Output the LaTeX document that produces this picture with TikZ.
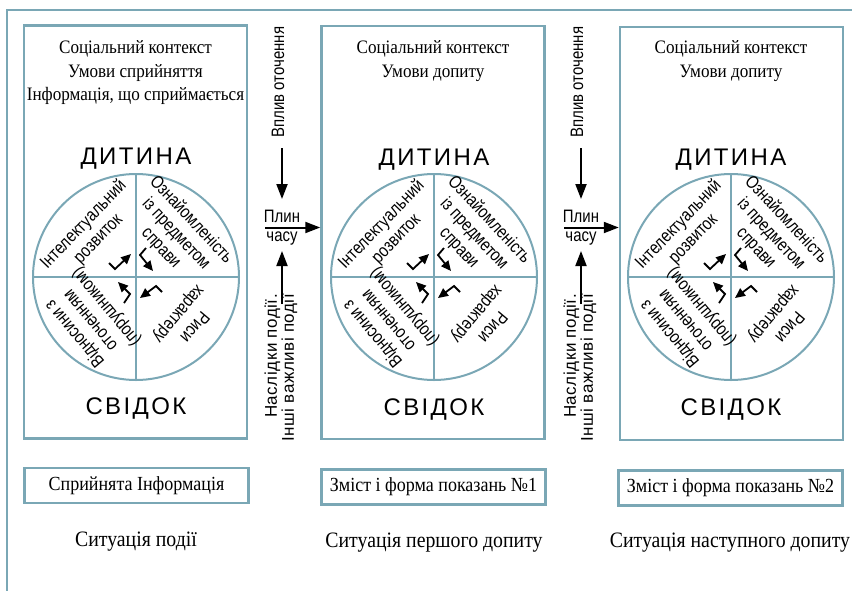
\documentclass[tikz,border=0pt]{standalone}
\usepackage{fontspec}
\setmainfont{Liberation Serif}
\newfontfamily\condserif[FakeStretch=0.9]{Liberation Serif}
\newfontfamily\condsans[FakeStretch=0.83]{Liberation Sans}
\newfontfamily\widesans[LetterSpace=3]{Liberation Sans}
\newfontfamily\titlefont[LetterSpace=10]{Liberation Sans}
\usetikzlibrary{arrows.meta}
\definecolor{framec}{RGB}{122,167,181}
\tikzset{
  bigbox/.style={draw=framec, line width=2.5pt, minimum width=223pt, minimum height=413pt, inner sep=0pt},
  infobox/.style={draw=framec, line width=2.5pt, minimum width=224pt, minimum height=35pt, inner sep=0pt, font=\condserif\fontsize{20}{22}\selectfont},
  toptext/.style={anchor=base, inner sep=0pt, font=\condserif\fontsize{19}{22}\selectfont},
  sitlabel/.style={anchor=base, inner sep=0pt, font=\condserif\fontsize{22}{24}\selectfont},
  bigword/.style={anchor=base, inner sep=0pt, font=\titlefont\fontsize{24}{26}\selectfont},
  quadtext/.style={align=center, inner sep=0pt, font=\condsans\fontsize{18}{20.5}\selectfont},
  sidetext/.style={inner sep=0pt, font=\condsans\fontsize{18}{16}\selectfont},
  bottomside/.style={inner sep=0pt, font=\widesans\fontsize{17}{17}\selectfont},
  flowarrow/.style={line width=2pt, -{Triangle[length=15pt,width=11pt]}},
  smallarrow/.style={line width=1.8pt, -{Triangle[length=10pt,width=9pt]}},
  wheel/.pic={
    \node[circle, draw=framec, line width=2pt, minimum size=206pt, inner sep=0pt] (c) at (0,0) {};
    \draw[framec, line width=2pt] (c.north) -- (c.south);
    \draw[framec, line width=2pt] (c.west) -- (c.east);
    \node[quadtext, rotate=46] (ul) at (-45,-45) {Інтелектуальний\\розвиток};
    \node[quadtext, rotate=-47] (ur) at (40,-43) {Ознайомленість\\із предметом\\справи};
    \node[quadtext, rotate=-130] (lr) at (50,43) {Риси\\характеру};
    \node[quadtext, rotate=130] (ll) at (-45,43) {Відносини з\\оточенням\\(порушником)};
    \draw[smallarrow] (-27,-14) -- (-21,-8) -- (-5,-23);
    \draw[smallarrow] (10,-29) -- (4,-22) -- (17,-6);
    \draw[smallarrow] (26,15) -- (20,9) -- (4,21);
    \draw[smallarrow] (-12,26) -- (-6,17) -- (-18,5);
  }
}
\begin{document}
\begin{tikzpicture}[x=1pt,y=-1pt]
\useasboundingbox (0,0) rectangle (852,590);
% outer frame
\coordinate (fa) at (7,595);
\coordinate (fb) at (7,10);
\coordinate (fc) at (860,10);
\draw[framec, line width=2.5pt] (fa) -- (fb) -- (fc);

% big boxes
\node[bigbox] (b1) at (135.5,232) {};
\node[bigbox] (b2) at (433,232.5) {};
\node[bigbox] (b3) at (731.5,233.5) {};

% top texts
\node[toptext] (t11) at (135.5,53) {Соціальний контекст};
\node[toptext] (t12) at (135.5,77) {Умови сприйняття};
\node[toptext] (t13) at (135.5,100) {Інформація, що сприймається};
\node[toptext] (t21) at (433,53) {Соціальний контекст};
\node[toptext] (t22) at (433,77) {Умови допиту};
\node[toptext] (t31) at (731,53) {Соціальний контекст};
\node[toptext] (t32) at (731,77) {Умови допиту};

% child / witness
\node[bigword] (d1) at (136,164) {ДИТИНА};
\node[bigword] (d2) at (434,165) {ДИТИНА};
\node[bigword] (d3) at (731,165) {ДИТИНА};
\node[bigword] (s1) at (136,414) {СВІДОК};
\node[bigword] (s2) at (434,415) {СВІДОК};
\node[bigword] (s3) at (731,415) {СВІДОК};

% wheels
\pic (w1) at (136,277) {wheel};
\pic (w2) at (434,277) {wheel};
\pic (w3) at (731,277) {wheel};

% between boxes
\foreach \g/\nx [count=\i] in {282/b2, 581/b3} {
  \node[sidetext, rotate=90] (v\i) at (\g-4,82) {Вплив оточення};
  \coordinate (va\i) at (\g,148);
  \coordinate (vb\i) at (\g,199);
  \draw[flowarrow] (va\i) -- (vb\i);
  \node[sidetext] (p\i) at (\g,216) {Плин};
  \node[sidetext] (h\i) at (\g,239) {часу};
  \coordinate (ha\i) at (\g-17,227.5);
  \draw[flowarrow] (ha\i) -- (ha\i -| \nx.west);
  \coordinate (ua\i) at (\g,304);
  \coordinate (ub\i) at (\g,251);
  \draw[flowarrow] (ua\i) -- (ub\i);
  \node[bottomside, rotate=90, anchor=east, align=right] (n\i) at (\g-1,294) {Наслідки події.\\Інші важливі події};
}

% bottom boxes
\node[infobox] (i1) at (136.5,485.5) {Сприйнята Інформація};
\node[infobox] (i2) at (433.5,487) {Зміст і форма показань №1};
\node[infobox] (i3) at (730.5,488) {Зміст і форма показань №2};

% situation labels
\node[sitlabel] (l1) at (136,546) {Ситуація події};
\node[sitlabel] (l2) at (434,547) {Ситуація першого допиту};
\node[sitlabel] (l3) at (730,547) {Ситуація наступного допиту};
\end{tikzpicture}
\end{document}
